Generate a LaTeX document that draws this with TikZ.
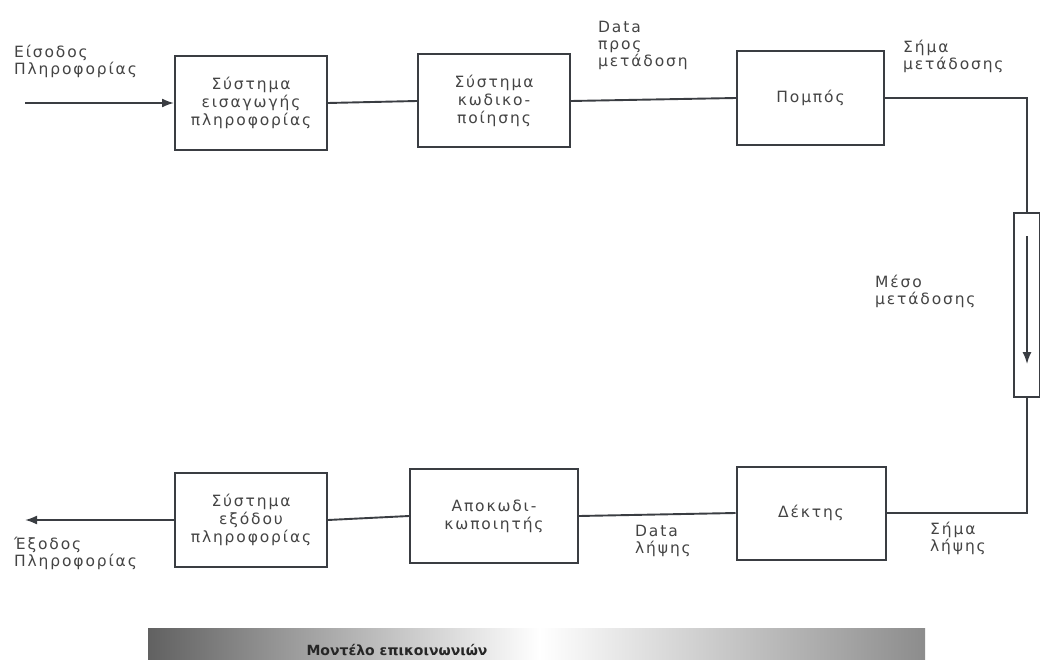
\documentclass[tikz,border=0pt]{standalone}
\usepackage{fontspec}
\setmainfont{DejaVu Sans}[LetterSpace=12]
\newfontfamily\capfont{DejaVu Sans}
\usetikzlibrary{arrows.meta}
\definecolor{ink}{HTML}{3A3D42}
\definecolor{txt}{HTML}{444444}
\tikzset{
  blk/.style={draw=ink, line width=2pt, fill=white, align=center, text=txt,
    font=\fontsize{15.5}{18}\selectfont, inner sep=2pt},
  lbl/.style={anchor=north west, align=left, text=txt, inner sep=0pt,
    font=\fontsize{15.5}{17}\selectfont},
  wire/.style={draw=ink, line width=1.9pt},
  tip/.style={-{Latex[length=12pt,width=9pt]}},
}
\begin{document}
\begin{tikzpicture}[x=1pt,y=-1pt]
\useasboundingbox (0,0) rectangle (1040,660);
\fill[white] (0,0) rectangle (1040,660);
% top row
\node[blk, minimum width=152pt, minimum height=94pt] (b1) at (251,103) {Σύστημα\\εισαγωγής\\πληροφορίας};
\node[blk, minimum width=152pt, minimum height=93pt] (b2) at (494,101) {Σύστημα\\κωδικο-\\ποίησης};
\node[blk, minimum width=147pt, minimum height=94pt] (b3) at (810.5,98) {Πομπός};
% medium
\node[draw=ink, line width=2pt, fill=white, minimum width=26pt, minimum height=184pt, inner sep=0pt] (med) at (1027,305) {};
% bottom row
\node[blk, minimum width=149pt, minimum height=93pt] (b4) at (811,513) {Δέκτης};
\node[blk, minimum width=168pt, minimum height=94pt] (b5) at (494,516) {Αποκωδι-\\κωποιητής};
\node[blk, minimum width=152pt, minimum height=94pt] (b6) at (251,520) {Σύστημα\\εξόδου\\πληροφορίας};
% coordinates
\coordinate (inS) at (25,103);
\coordinate (outE) at (25,520);
\coordinate (tr) at (1027,98);
\coordinate (br) at (1027,513);
\coordinate (ma) at (1027,236);
\coordinate (mb) at (1027,364);
% connectors
\draw[wire, tip] (inS) -- (b1.west);
\draw[wire] (b1.east) -- (b2.west);
\draw[wire] (b2.east) -- (b3.west);
\draw[wire] (b3.east) -- (tr) -- (med.north);
\draw[wire] (med.south) -- (br) -- (b4.east);
\draw[wire] (b4.west) -- (b5.east);
\draw[wire] (b5.west) -- (b6.east);
\draw[wire, tip] (b6.west) -- (outE);
\draw[draw=ink, line width=1.5pt, tip] (ma) -- (mb);
% labels
\node[lbl] (l1) at (14,45) {Είσοδος\\Πληροφορίας};
\node[lbl] (l2) at (598,21) {Data\\προς\\μετάδοση};
\node[lbl] (l3) at (903,40) {Σήμα\\μετάδοσης};
\node[lbl] (l4) at (875,275) {Μέσο\\μετάδοσης};
\node[lbl] (l5) at (635,525) {Data\\λήψης};
\node[lbl] (l6) at (930,522) {Σήμα\\λήψης};
\node[lbl] (l7) at (14,537) {Έξοδος\\Πληροφορίας};
% caption bar
\shade[left color=black!62, right color=white] (148,628) rectangle (540,662);
\shade[left color=white, right color=black!45] (539,628) rectangle (925,662);
\node[font=\capfont\bfseries\fontsize{14}{16}\selectfont, text=black!85, inner sep=0pt] (cap) at (397,650) {Μοντέλο επικοινωνιών};
\end{tikzpicture}
\end{document}
